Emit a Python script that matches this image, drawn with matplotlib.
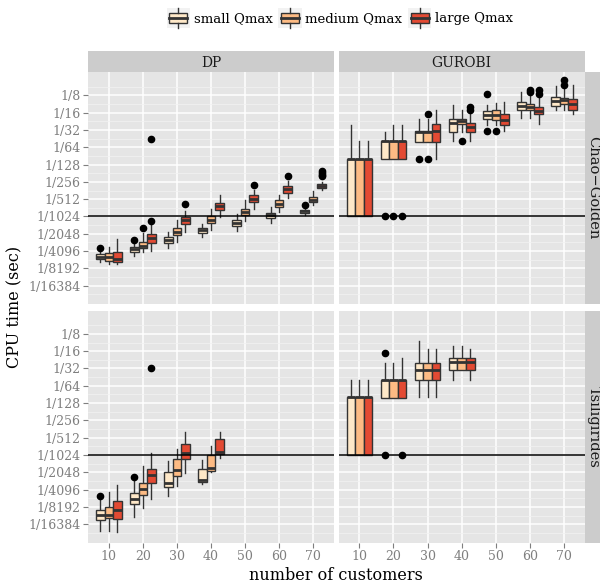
import numpy as np
import matplotlib
matplotlib.use('Agg')
import matplotlib.pyplot as plt
from matplotlib.patches import Rectangle
from matplotlib.lines import Line2D
from matplotlib.legend_handler import HandlerBase
from matplotlib.ticker import FixedLocator, NullFormatter

plt.rcParams['font.family'] = ['DejaVu Serif']

# ---------------- data (values are log2 of CPU seconds) ----------------
QMAX = ['small Qmax', 'medium Qmax', 'large Qmax']
X_TICKS = [10, 20, 30, 40, 50, 60, 70]
Y_TICK_EXP = [-3, -4, -5, -6, -7, -8, -9, -10, -11, -12, -13, -14]
Y_TICK_LABELS = ['1/8', '1/16', '1/32', '1/64', '1/128', '1/256', '1/512',
                 '1/1024', '1/2048', '1/4096', '1/8192', '1/16384']
HLINE_EXP = -10
SOLVERS = ['DP', 'GUROBI']
INSTANCES = ['Chao\u2212Golden', 'Tsiligirides']

# DP / Chao-Golden   (order: per n, small / medium / large)
dp_cg_n = [10, 20, 30, 40, 50, 60, 70]
dp_cg_lo = [-12.66, -12.76, -12.76, -12.28, -12.08, -11.99, -11.80, -11.45, -10.91,
            -11.20, -10.77, -10.06, -10.83, -10.29, -9.58, -10.35, -9.77, -8.94,
            -9.92, -9.34, -8.46]
dp_cg_q1 = [-12.47, -12.55, -12.66, -12.03, -11.83, -11.51, -11.51, -11.10, -10.44,
            -10.97, -10.39, -9.65, -10.54, -9.94, -9.17, -10.10, -9.48, -8.65,
            -9.81, -9.19, -8.38]
dp_cg_med = [-12.32, -12.36, -12.45, -11.87, -11.68, -11.25, -11.35, -10.91, -10.23,
             -10.81, -10.19, -9.42, -10.39, -9.75, -8.98, -9.92, -9.27, -8.42,
             -9.71, -9.03, -8.24]
dp_cg_q3 = [-12.18, -12.12, -12.08, -11.74, -11.45, -11.00, -11.20, -10.68, -10.04,
            -10.68, -10.00, -9.23, -10.23, -9.56, -8.78, -9.81, -9.07, -8.22,
            -9.61, -8.88, -8.11]
dp_cg_hi = [-12.07, -11.78, -11.29, -11.54, -10.97, -10.44, -10.87, -10.23, -9.71,
            -10.42, -9.56, -8.75, -9.85, -9.03, -8.46, -9.46, -8.78, -7.97,
            -9.52, -8.55, -7.99]
dp_cg_out_n = [10, 20, 20, 20, 20, 30, 50, 60, 70, 70, 70, 70, 70]
dp_cg_out_q = [0, 0, 1, 2, 2, 2, 2, 2, 0, 2, 2, 2, 2]
dp_cg_out_v = [-11.80, -11.37, -10.69, -10.25, -5.50, -9.29, -8.17, -7.64, -9.36,
               -7.39, -7.49, -7.59, -7.68]

# GUROBI / Chao-Golden
gu_cg_n = [10, 20, 30, 40, 50, 60, 70]
gu_cg_lo = [-10.0, -10.0, -10.0, -6.68, -6.68, -6.68, -5.70, -5.70, -6.68,
            -5.66, -5.12, -5.66, -4.69, -4.69, -5.08, -4.31, -4.31, -4.65,
            -3.86, -3.82, -4.07]
gu_cg_q1 = [-10.0, -10.0, -10.0, -6.68, -6.68, -6.68, -5.70, -5.70, -5.70,
            -5.12, -4.65, -5.12, -4.36, -4.40, -4.69, -3.82, -3.86, -4.07,
            -3.59, -3.49, -3.82]
gu_cg_med = [-6.68, -6.68, -6.68, -5.64, -5.64, -5.64, -5.10, -5.10, -5.08,
             -4.59, -4.50, -4.83, -4.11, -4.11, -4.40, -3.59, -3.67, -3.92,
             -3.34, -3.28, -3.49]
gu_cg_q3 = [-6.68, -6.68, -6.68, -5.64, -5.64, -5.64, -5.06, -5.06, -4.65,
            -4.36, -4.36, -4.59, -3.88, -3.82, -4.07, -3.38, -3.49, -3.67,
            -3.11, -3.15, -3.20]
gu_cg_hi = [-4.69, -5.66, -5.66, -5.12, -4.69, -4.69, -4.36, -4.36, -3.86,
            -3.53, -3.86, -4.02, -3.53, -3.44, -3.40, -2.80, -3.05, -3.05,
            -2.47, -2.66, -2.43]
gu_cg_out_n = [20, 20, 20, 30, 30, 30, 40, 40, 40, 50, 50, 50, 60, 60, 60, 60, 70, 70]
gu_cg_out_q = [0, 1, 2, 0, 1, 1, 1, 2, 2, 0, 0, 1, 1, 1, 2, 2, 1, 1]
gu_cg_out_v = [-10.0, -10.0, -10.0, -6.66, -6.66, -4.07, -5.66, -3.69, -3.86,
               -2.95, -5.08, -5.08, -2.70, -2.82, -2.70, -2.95, -2.14, -2.43]

# DP / Tsiligirides
dp_ts_n = [10, 20, 30, 40]
dp_ts_lo = [-14.37, -14.42, -14.48, -13.56, -13.08, -12.56, -12.40, -11.79, -11.06,
            -11.69, -11.00, -10.19]
dp_ts_q1 = [-13.75, -13.65, -13.71, -12.85, -12.31, -11.63, -11.88, -11.19, -10.23,
            -11.58, -10.90, -9.94]
dp_ts_med = [-13.46, -13.46, -13.21, -12.54, -11.98, -11.15, -11.60, -10.87, -9.90,
             -11.44, -10.77, -9.81]
dp_ts_q3 = [-13.21, -13.02, -12.65, -12.21, -11.60, -10.81, -10.96, -10.23, -9.37,
            -10.81, -10.00, -9.10]
dp_ts_hi = [-12.56, -12.12, -11.73, -11.44, -10.62, -9.87, -10.35, -9.65, -8.69,
            -10.29, -9.46, -8.69]
dp_ts_out_n = [10, 20, 20]
dp_ts_out_q = [0, 0, 2]
dp_ts_out_v = [-12.40, -11.27, -4.98]

# GUROBI / Tsiligirides
gu_ts_n = [10, 20, 30, 40]
gu_ts_lo = [-10.0, -10.0, -10.0, -6.69, -6.69, -6.69, -6.67, -6.67, -6.67,
            -5.67, -5.10, -5.67]
gu_ts_q1 = [-10.0, -10.0, -10.0, -6.69, -6.69, -6.69, -5.67, -5.67, -5.67,
            -5.10, -5.10, -5.10]
gu_ts_med = [-6.67, -6.67, -6.67, -5.67, -5.67, -5.67, -5.10, -5.10, -5.10,
             -4.62, -4.62, -4.62]
gu_ts_q3 = [-6.67, -6.67, -6.67, -5.67, -5.67, -5.67, -4.67, -4.67, -4.67,
            -4.37, -4.37, -4.37]
gu_ts_hi = [-5.67, -5.67, -5.67, -4.71, -4.71, -4.38, -3.40, -3.90, -3.90,
            -3.71, -3.71, -3.90]
gu_ts_out_n = [20, 20, 20]
gu_ts_out_q = [0, 0, 2]
gu_ts_out_v = [-4.10, -10.0, -10.0]

# ---------------- style ----------------
FILL = ['#FEE8C8', '#FDBB84', '#E34A33']
EDGE = '#333333'
PANEL_BG = '#E5E5E5'
STRIP_BG = '#CCCCCC'
TICK_COL = '#7F7F7F'
OFFSET = 2.5
BOXW = 2.5

W, H = 600, 583


def rect(x0, y0, x1, y1):
    return [x0 / W, 1 - y1 / H, (x1 - x0) / W, (y1 - y0) / H]


fig = plt.figure(figsize=(W / 100, H / 100), dpi=100)

COLS = [(88, 334), (338.5, 585)]
ROWS = [(72, 304), (310.5, 542.5)]

panels = {
    (0, 0): (dp_cg_n, dp_cg_lo, dp_cg_q1, dp_cg_med, dp_cg_q3, dp_cg_hi,
             dp_cg_out_n, dp_cg_out_q, dp_cg_out_v),
    (0, 1): (gu_cg_n, gu_cg_lo, gu_cg_q1, gu_cg_med, gu_cg_q3, gu_cg_hi,
             gu_cg_out_n, gu_cg_out_q, gu_cg_out_v),
    (1, 0): (dp_ts_n, dp_ts_lo, dp_ts_q1, dp_ts_med, dp_ts_q3, dp_ts_hi,
             dp_ts_out_n, dp_ts_out_q, dp_ts_out_v),
    (1, 1): (gu_ts_n, gu_ts_lo, gu_ts_q1, gu_ts_med, gu_ts_q3, gu_ts_hi,
             gu_ts_out_n, gu_ts_out_q, gu_ts_out_v),
}


def draw_panel(ax, groups, lo, q1, med, q3, hi, out_n, out_q, out_v):
    stats, positions, colors = [], [], []
    k = 0
    for g in groups:
        for qi in range(3):
            fl = [2.0 ** v for n, q, v in zip(out_n, out_q, out_v) if n == g and q == qi]
            stats.append(dict(whislo=2.0 ** lo[k], q1=2.0 ** q1[k], med=2.0 ** med[k],
                              q3=2.0 ** q3[k], whishi=2.0 ** hi[k], fliers=fl))
            positions.append(g + (qi - 1) * OFFSET)
            colors.append(FILL[qi])
            k += 1
    bp = ax.bxp(stats, positions=positions, widths=BOXW, patch_artist=True,
                showcaps=False, showfliers=True, manage_ticks=False,
                boxprops=dict(edgecolor=EDGE, linewidth=1.0),
                medianprops=dict(color=EDGE, linewidth=2.0, solid_capstyle='butt'),
                whiskerprops=dict(color=EDGE, linewidth=1.0),
                flierprops=dict(marker='o', markerfacecolor='black',
                                markeredgecolor='black', markersize=4.5))
    for patch, c in zip(bp['boxes'], colors):
        patch.set_facecolor(c)
        patch.set_zorder(3)
    for m in bp['medians']:
        m.set_zorder(4)
    for f in bp['fliers']:
        f.set_zorder(6)


ymin, ymax = 2.0 ** -15.06, 2.0 ** -1.65
for (r, c), data in panels.items():
    x0, x1 = COLS[c]
    y0, y1 = ROWS[r]
    ax = fig.add_axes(rect(x0, y0, x1, y1))
    ax.set_facecolor(PANEL_BG)
    for s in ax.spines.values():
        s.set_visible(False)
    ax.set_yscale('log', base=2)
    ax.set_ylim(ymin, ymax)
    ax.set_xlim(3.9, 76.1)
    ax.yaxis.set_major_locator(FixedLocator([2.0 ** e for e in Y_TICK_EXP]))
    ax.yaxis.set_minor_locator(FixedLocator([2.0 ** (e + 0.5) for e in range(-16, 0)]))
    ax.yaxis.set_minor_formatter(NullFormatter())
    ax.xaxis.set_major_locator(FixedLocator(X_TICKS))
    ax.grid(which='major', color='white', linewidth=1.1, zorder=0)
    ax.grid(which='minor', axis='y', color='#F2F2F2', linewidth=0.5, zorder=0)
    ax.set_axisbelow(True)
    ax.tick_params(which='minor', length=0)
    ax.tick_params(which='major', length=3.5, width=0.8, color=TICK_COL,
                   labelcolor=TICK_COL, labelsize=9, pad=2)
    if c == 0:
        ax.set_yticklabels(Y_TICK_LABELS)
    else:
        ax.tick_params(axis='y', length=0, labelleft=False)
    if r == 1:
        ax.set_xticklabels([str(v) for v in X_TICKS])
    else:
        ax.tick_params(axis='x', length=0, labelbottom=False)
    draw_panel(ax, *data)
    ax.axhline(2.0 ** HLINE_EXP, color='black', linewidth=1.1, zorder=5)

# strips
for c, name in enumerate(SOLVERS):
    x0, x1 = COLS[c]
    sax = fig.add_axes(rect(x0, 51, x1, 72))
    sax.set_facecolor(STRIP_BG)
    sax.set_xticks([]); sax.set_yticks([])
    for s in sax.spines.values():
        s.set_visible(False)
    sax.text(0.5, 0.45, name, ha='center', va='center', fontsize=10, color='#1A1A1A',
             transform=sax.transAxes)
for r, name in enumerate(INSTANCES):
    y0, y1 = ROWS[r]
    sax = fig.add_axes(rect(585, y0, 602, y1))
    sax.set_facecolor(STRIP_BG)
    sax.set_xticks([]); sax.set_yticks([])
    for s in sax.spines.values():
        s.set_visible(False)
    sax.text(0.5, 0.5, name, ha='center', va='center', fontsize=10.5, color='#1A1A1A',
             rotation=270, transform=sax.transAxes)

fig.text(15 / W, 1 - 307 / H, 'CPU time (sec)', rotation=90, ha='center', va='center',
         fontsize=11.5)
fig.text(336 / W, 1 - 575 / H, 'number of customers', ha='center', va='center',
         fontsize=11.5)


# legend
class BoxHandler(HandlerBase):
    def create_artists(self, legend, orig_handle, xdescent, ydescent, width, height,
                       fontsize, trans):
        fc = orig_handle.get_facecolor()
        hh = 20.0 * 72.0 / 100.0   # key height in points
        x = -xdescent
        y = -ydescent + (height - hh) / 2.0
        height = hh
        bg = Rectangle((x, y), width, height, facecolor='#F2F2F2', edgecolor='none',
                       transform=trans)
        bx = Rectangle((x + width * 0.1, y + height * 0.25), width * 0.8, height * 0.5,
                       facecolor=fc, edgecolor=EDGE, linewidth=1.0, transform=trans)
        med = Line2D([x + width * 0.1, x + width * 0.9], [y + height * 0.5] * 2,
                     color=EDGE, linewidth=2.0, transform=trans)
        w1 = Line2D([x + width / 2] * 2, [y + height * 0.75, y + height], color=EDGE,
                    linewidth=1.0, transform=trans)
        w2 = Line2D([x + width / 2] * 2, [y, y + height * 0.25], color=EDGE,
                    linewidth=1.0, transform=trans)
        return [bg, bx, med, w1, w2]


handles = [Rectangle((0, 0), 1, 1, facecolor=FILL[i]) for i in range(3)]
fig.legend(handles, QMAX, loc='center', bbox_to_anchor=(340 / W, 1 - 18 / H),
           ncol=3, frameon=False, fontsize=9.5, handler_map={Rectangle: BoxHandler()},
           handlelength=1.75, handleheight=1.4, handletextpad=0.3, columnspacing=0.45,
           borderpad=0.0)

fig.savefig('out.png', dpi=100)
